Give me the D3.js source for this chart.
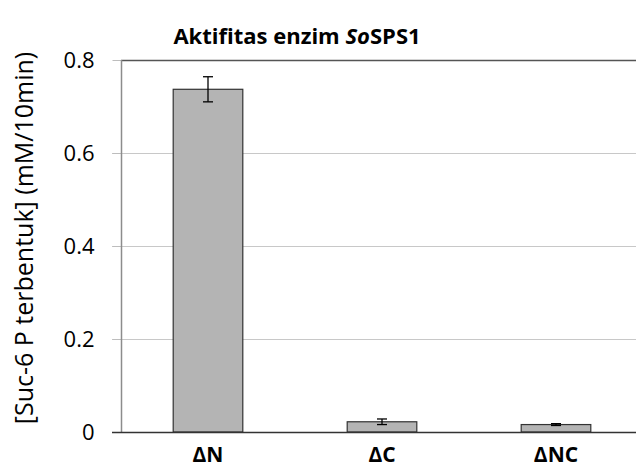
<!DOCTYPE html>
<html>
<head>
<meta charset="utf-8">
<style>
  body { margin: 0; background: #fff; }
  text { font-family: "Open Sans", "Noto Sans", sans-serif; fill: #000; }
  .grid line { stroke: #c8c8c8; stroke-width: 1px; }
  .bar { fill: #b4b4b4; stroke: #333; stroke-width: 1.2px; }
  .err { stroke: #000; stroke-width: 1.3px; fill: none; }
</style>
</head>
<body>
<svg width="636" height="468"></svg>
<script src="https://d3js.org/d3.v7.min.js"></script>
<script>

// data
var categories = ["\u0394N", "\u0394C", "\u0394NC"];
var values = [0.737, 0.022, 0.016];
var errors = [0.027, 0.006, 0.002];
var yTicks = [0, 0.2, 0.4, 0.6, 0.8];

var svg = d3.select("svg");

// plot area runs past the right edge, the reference is cropped
var plotLeft = 121, plotRight = 643, plotTop = 60, plotBottom = 432;

var x = d3.scaleBand()
    .domain(categories)
    .range([plotLeft, plotRight])
    .paddingInner(0.6)
    .paddingOuter(0.3);

var y = d3.scaleLinear()
    .domain([0, 0.8])
    .range([plotBottom, plotTop]);

// gridlines
svg.append("g")
    .attr("class", "grid")
    .selectAll("line")
    .data(yTicks.slice(1, -1))
    .enter().append("line")
    .attr("x1", plotLeft - 9)
    .attr("x2", plotRight)
    .attr("y1", function(d) { return Math.round(y(d)) + 0.5; })
    .attr("y2", function(d) { return Math.round(y(d)) + 0.5; });

// top border
svg.append("line")
    .attr("x1", plotLeft).attr("x2", plotRight)
    .attr("y1", plotTop + 0.5).attr("y2", plotTop + 0.5)
    .style("stroke", "#555").style("stroke-width", "1.5px");

// y axis
var yAxis = d3.axisLeft(y)
    .tickValues(yTicks)
    .tickSize(9)
    .tickPadding(18)
    .tickFormat(function(d) { return d === 0 ? "0" : d3.format(".1f")(d); });

var gy = svg.append("g")
    .attr("transform", "translate(" + (plotLeft + 0.5) + ",0)")
    .call(yAxis);
gy.select(".domain").remove();
gy.append("line")
    .attr("y1", plotTop).attr("y2", plotBottom)
    .style("stroke", "#8c8c8c").style("stroke-width", "1.5px");
gy.selectAll(".tick line").style("stroke", "#bdbdbd");
gy.selectAll(".tick text")
    .style("font-size", "22px")
    .style("font-family", "'Open Sans', sans-serif")
    .attr("fill", "#000");

// bars
svg.selectAll(".bar")
    .data(values)
    .enter().append("rect")
    .attr("class", "bar")
    .attr("x", function(d, i) { return x(categories[i]); })
    .attr("width", x.bandwidth())
    .attr("y", function(d) { return y(d); })
    .attr("height", function(d) { return y(0) - y(d); });

// error bars
var eg = svg.selectAll(".errg")
    .data(values)
    .enter().append("g")
    .attr("class", "err");
eg.append("line")
    .attr("x1", function(d, i) { return x(categories[i]) + x.bandwidth() / 2; })
    .attr("x2", function(d, i) { return x(categories[i]) + x.bandwidth() / 2; })
    .attr("y1", function(d, i) { return y(d + errors[i]); })
    .attr("y2", function(d, i) { return y(d - errors[i]); });
[1, -1].forEach(function(sgn) {
  eg.append("line")
      .attr("x1", function(d, i) { return x(categories[i]) + x.bandwidth() / 2 - 5; })
      .attr("x2", function(d, i) { return x(categories[i]) + x.bandwidth() / 2 + 5; })
      .attr("y1", function(d, i) { return y(d + sgn * errors[i]); })
      .attr("y2", function(d, i) { return y(d + sgn * errors[i]); });
});

// x axis line
svg.append("line")
    .attr("x1", plotLeft - 9).attr("x2", plotRight)
    .attr("y1", plotBottom + 0.5).attr("y2", plotBottom + 0.5)
    .style("stroke", "#333").style("stroke-width", "1.5px");

// category labels
svg.selectAll(".cat")
    .data(categories)
    .enter().append("text")
    .attr("class", "cat")
    .attr("x", function(d) { return x(d) + x.bandwidth() / 2; })
    .attr("y", 462)
    .attr("text-anchor", "middle")
    .style("font-size", "21px")
    .style("font-weight", "bold")
    .text(function(d) { return d; });

// title
var title = svg.append("text")
    .attr("x", 297)
    .attr("y", 44)
    .attr("text-anchor", "middle")
    .style("font-size", "22px")
    .style("font-weight", "bold");
title.append("tspan").text("Aktifitas enzim ");
title.append("tspan").style("font-style", "italic").text("So");
title.append("tspan").text("SPS1");

// y label
svg.append("text")
    .attr("transform", "translate(33,238) rotate(-90)")
    .attr("text-anchor", "middle")
    .style("font-size", "25px")
    .text("[Suc-6 P terbentuk] (mM/10min)");

</script>
</body>
</html>
